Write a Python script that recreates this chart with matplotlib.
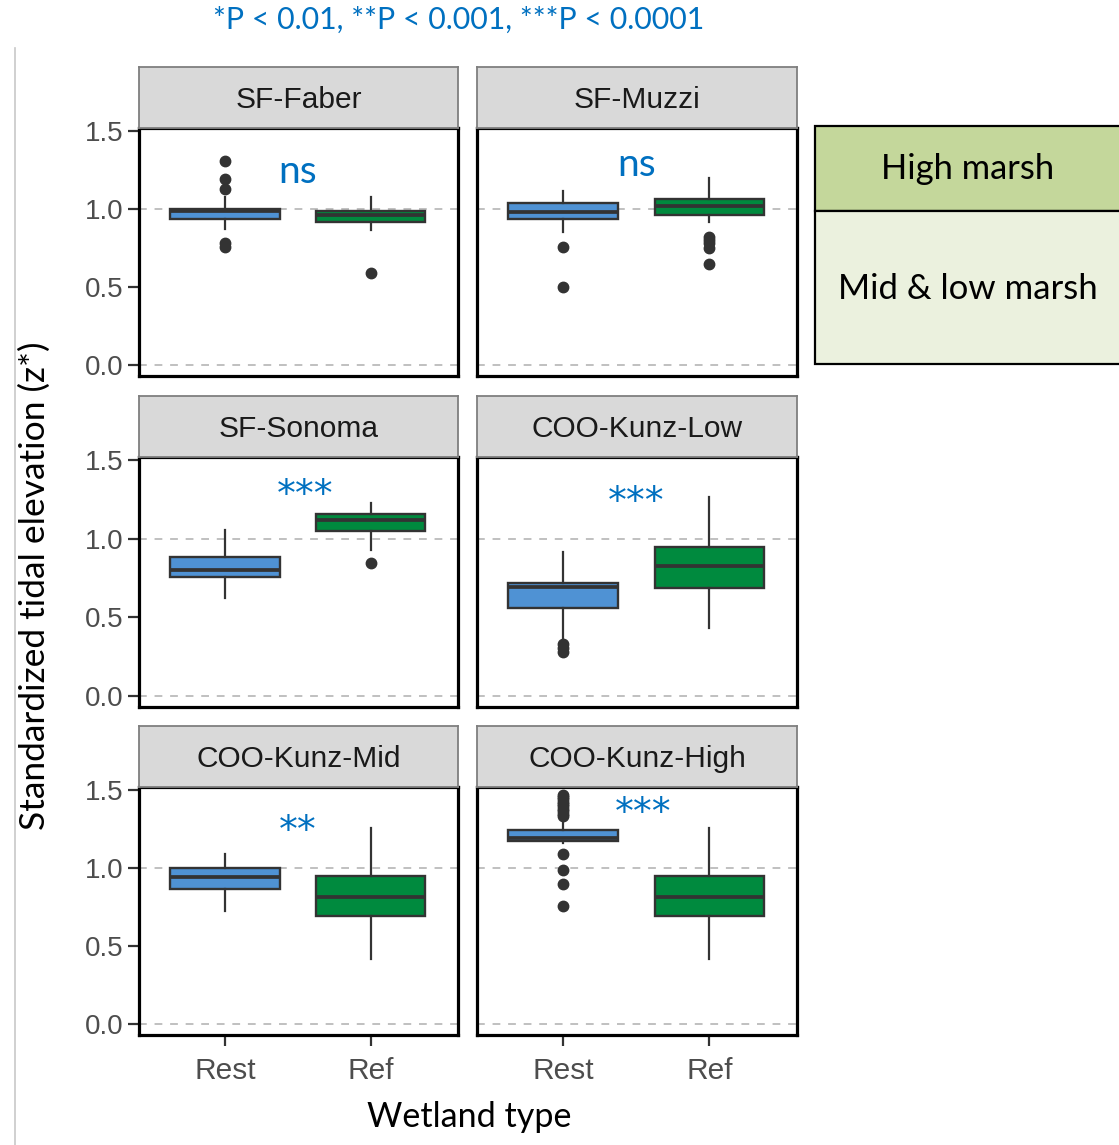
import matplotlib
matplotlib.use("Agg")
import matplotlib.pyplot as plt
from matplotlib.patches import Rectangle
from matplotlib.lines import Line2D

W, H = 1119, 1145

# ---------------- data ----------------
sites = ["SF-Faber", "SF-Muzzi", "SF-Sonoma", "COO-Kunz-Low", "COO-Kunz-Mid", "COO-Kunz-High"]
types = ["Rest", "Ref"]
signif = ["ns", "ns", "***", "***", "**", "***"]
signif_x = [1.5, 1.5, 1.55, 1.5, 1.5, 1.55]
signif_y = [1.24, 1.28, 1.30, 1.25, 1.26, 1.37]

rest_q1 = [0.936, 0.935, 0.754, 0.562, 0.866, 1.175]
rest_med = [0.985, 0.983, 0.803, 0.696, 0.940, 1.195]
rest_q3 = [1.000, 1.040, 0.885, 0.718, 0.998, 1.243]
rest_lo = [0.870, 0.855, 0.622, 0.360, 0.723, 1.160]
rest_hi = [1.077, 1.117, 1.053, 0.914, 1.088, 1.290]
rest_out = [[1.31, 1.19, 1.13, 0.78, 0.757],
            [0.754, 0.498],
            [],
            [0.333, 0.305, 0.28],
            [],
            [1.47, 1.455, 1.44, 1.425, 1.41, 1.395, 1.38, 1.365, 1.35, 1.335, 1.09, 0.99, 0.90, 0.755]]

ref_q1 = [0.920, 0.960, 1.049, 0.690, 0.690, 0.690]
ref_med = [0.960, 1.020, 1.120, 0.824, 0.813, 0.813]
ref_q3 = [0.990, 1.064, 1.156, 0.946, 0.947, 0.947]
ref_lo = [0.865, 0.920, 0.930, 0.430, 0.420, 0.420]
ref_hi = [1.080, 1.197, 1.230, 1.263, 1.255, 1.255]
ref_out = [[0.59],
           [0.82, 0.80, 0.78, 0.75, 0.647],
           [0.846],
           [],
           [],
           []]

yticks = [0.0, 0.5, 1.0, 1.5]
ytick_labels = ["0.0", "0.5", "1.0", "1.5"]
legend_labels = ["High marsh", "Mid & low marsh"]
title_text = "*P < 0.01, **P < 0.001, ***P < 0.0001"
ylabel_text = "Standardized tidal elevation (z*)"
xlabel_text = "Wetland type"

# ---------------- style ----------------
BLUE = "#4f92d4"
GREEN = "#008a3e"
DARK = "#333333"
ANN = "#0070c0"
TICKC = "#4d4d4d"
STRIP = "#d9d9d9"
HIGH = "#c4d79b"
LOW = "#ebf1de"
CAL = ["Lato", "DejaVu Sans"]
ARI = ["Liberation Sans", "DejaVu Sans"]
STAR = ["DejaVu Sans"]

fig = plt.figure(figsize=(W / 100, H / 100), dpi=100)


def fx(x):
    return x / W


def fy(y):
    return 1 - y / H


cols = [(139, 458), (477, 797)]
rows = [(128, 376), (457, 707), (787, 1035)]
strip_h = 61

for i, site in enumerate(sites):
    r, c = divmod(i, 2)
    x0, x1 = cols[c]
    yt, yb = rows[r]
    ax = fig.add_axes([fx(x0), fy(yb), (x1 - x0) / W, (yb - yt) / H])
    stats = [
        dict(med=rest_med[i], q1=rest_q1[i], q3=rest_q3[i], whislo=rest_lo[i],
             whishi=rest_hi[i], fliers=rest_out[i], label=types[0]),
        dict(med=ref_med[i], q1=ref_q1[i], q3=ref_q3[i], whislo=ref_lo[i],
             whishi=ref_hi[i], fliers=ref_out[i], label=types[1]),
    ]
    for yv in (0.0, 1.0):
        ax.axhline(yv, color="#c0c0c0", lw=1.4, ls=(0, (4, 4)), zorder=0)
    bp = ax.bxp(stats, positions=[1, 2], widths=0.75, patch_artist=True,
                showcaps=False,
                boxprops=dict(edgecolor=DARK, linewidth=1.7),
                medianprops=dict(color=DARK, linewidth=2.7),
                whiskerprops=dict(color=DARK, linewidth=1.6),
                flierprops=dict(marker="o", markersize=7.5, markerfacecolor=DARK,
                                markeredgecolor=DARK, linestyle="none"),
                zorder=2)
    bp["boxes"][0].set_facecolor(BLUE)
    bp["boxes"][1].set_facecolor(GREEN)
    ax.set_xlim(0.41, 2.6)
    ax.set_ylim(-0.07, 1.52)
    ax.set_yticks(yticks)
    ax.set_xticks([1, 2])
    for s in ax.spines.values():
        s.set_linewidth(2.3)
        s.set_color("black")
    ax.tick_params(axis="both", length=8, width=1.6, color=DARK, colors=TICKC)
    ax.tick_params(axis="x", pad=8)
    if c == 0:
        ax.set_yticklabels(ytick_labels, fontsize=20, family=ARI, color=TICKC)
    else:
        ax.tick_params(axis="y", left=False, labelleft=False)
    if r == 2:
        ax.set_xticklabels(types, fontsize=21.5, family=ARI, color=TICKC)
    else:
        ax.tick_params(axis="x", bottom=False, labelbottom=False)
    if signif[i] == "ns":
        ax.text(signif_x[i], signif_y[i], signif[i], ha="center", va="center",
                color=ANN, fontsize=28, family=CAL)
    else:
        ax.text(signif_x[i], signif_y[i], signif[i], ha="center", va="center_baseline",
                color=ANN, fontsize=27, family=STAR)
    # strip
    sax = fig.add_axes([fx(x0), fy(yt), (x1 - x0) / W, strip_h / H])
    sax.set_facecolor(STRIP)
    sax.set_xticks([])
    sax.set_yticks([])
    for s in sax.spines.values():
        s.set_color("#7f7f7f")
        s.set_linewidth(1.3)
    sax.text(0.5, 0.46, site, ha="center", va="center", fontsize=21.5,
             family=ARI, color="#1a1a1a", transform=sax.transAxes)

# legend-like boxes on the right
fig.patches.append(Rectangle((fx(815), fy(211)), (W - 815 + 10) / W, (211 - 126) / H,
                             transform=fig.transFigure, facecolor=HIGH,
                             edgecolor="black", linewidth=1.6, zorder=1))
fig.patches.append(Rectangle((fx(815), fy(364)), (W - 815 + 10) / W, (364 - 211) / H,
                             transform=fig.transFigure, facecolor=LOW,
                             edgecolor="black", linewidth=1.6, zorder=1))
fig.text(fx(968), fy(169), legend_labels[0], ha="center", va="center",
         fontsize=24.8, family=CAL, color="black")
fig.text(fx(968), fy(289), legend_labels[1], ha="center", va="center",
         fontsize=25, family=CAL, color="black")

# left thin gray line
fig.add_artist(Line2D([fx(15), fx(15)], [fy(48), fy(1145)], transform=fig.transFigure,
                      color="#c8c8c8", lw=1.2))

fig.text(fx(459), fy(20), title_text, ha="center", va="center", fontsize=21.8,
         family=CAL, color=ANN)
fig.text(fx(35), fy(586), ylabel_text, ha="center", va="center", rotation=90,
         fontsize=25.5, family=CAL, color="black")
fig.text(fx(469), fy(1117), xlabel_text, ha="center", va="center",
         fontsize=24.6, family=CAL, color="black")

fig.savefig("out.png", dpi=100)
